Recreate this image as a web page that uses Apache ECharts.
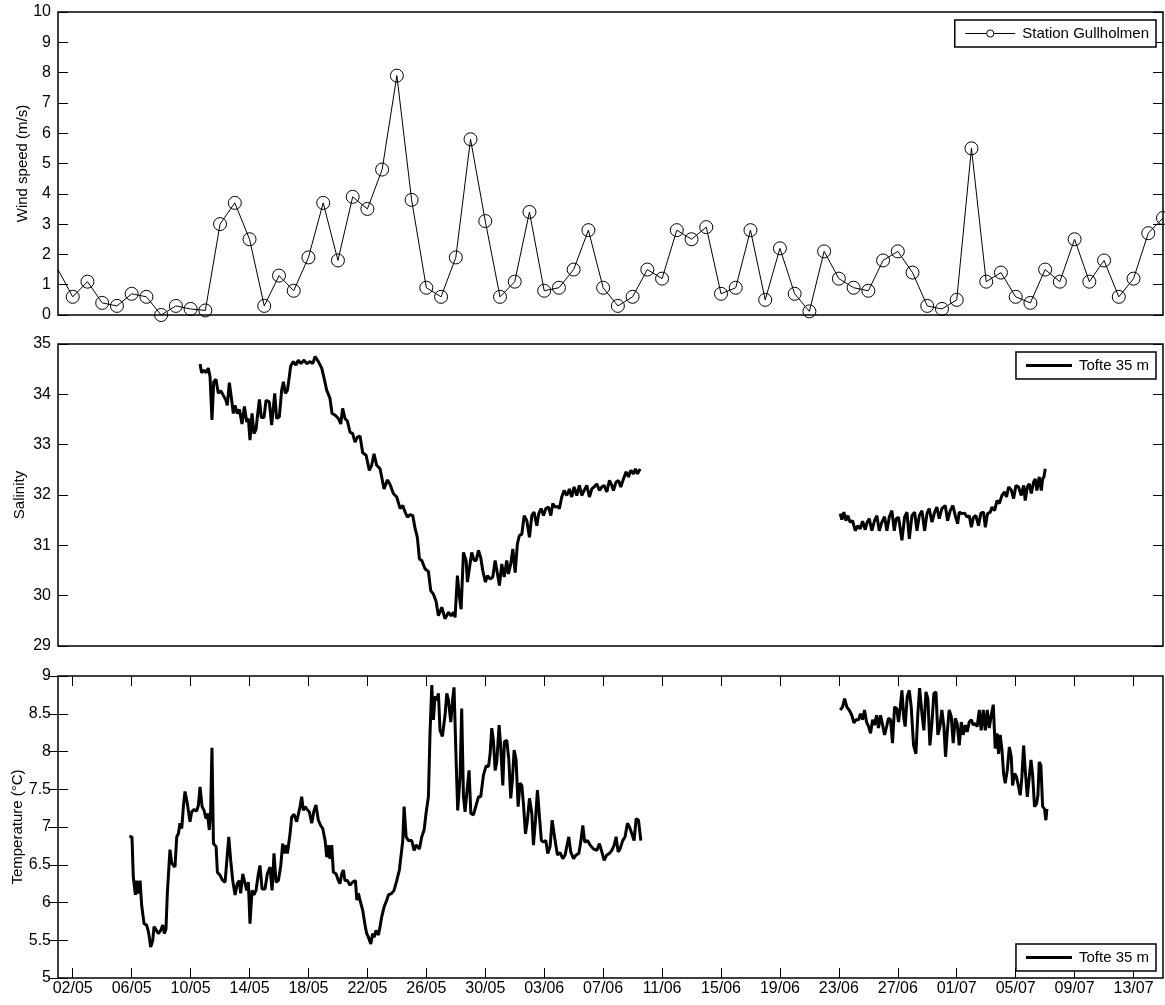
<!DOCTYPE html>
<html>
<head>
  <meta charset="UTF-8">
  <title>Gullholmen wind / Tofte 35 m</title>
  <script src="https://cdn.jsdelivr.net/npm/echarts@6/dist/echarts.min.js"></script>
  <style>
    html,body{margin:0;padding:0;background:#fff;}
    #main{width:1165px;height:1005px;}
  </style>
</head>
<body>
<div id="main"></div>
<script>
  // x values are days counted from 01/05 (01/05 = 0, 15/07 = 75)
  var windSpeed = [1.5,0.6,1.1,0.4,0.3,0.7,0.6,0.0,0.3,0.2,0.15,3.0,3.7,2.5,0.3,1.3,0.8,1.9,3.7,1.8,3.9,3.5,4.8,7.9,3.8,0.9,0.6,1.9,5.8,3.1,0.6,
    1.1,3.4,0.8,0.9,1.5,2.8,0.9,0.3,0.6,1.5,1.2,2.8,2.5,2.9,0.7,0.9,2.8,0.5,2.2,0.7,0.12,2.1,1.2,0.9,0.8,1.8,2.1,1.4,0.3,0.2,
    0.5,5.5,1.1,1.4,0.6,0.4,1.5,1.1,2.5,1.1,1.8,0.6,1.2,2.7,3.2];

  var salinity1 = [[9.64,34.6],[9.75,34.43],[9.91,34.48],[10.05,34.43],[10.2,34.52],[10.32,34.35],[10.45,33.49],[10.57,34.25],[10.72,34.3],[10.88,34.02],
    [11.04,34.07],[11.22,33.98],[11.4,33.88],[11.49,33.78],[11.63,34.23],[11.79,33.88],[11.9,33.62],[12.01,33.78],[12.17,33.62],[12.31,33.7],
    [12.49,33.41],[12.65,33.76],[12.81,33.45],[12.92,33.52],[13.03,33.09],[13.17,33.62],[13.3,33.22],[13.44,33.3],[13.53,33.55],[13.67,33.9],
    [13.8,33.54],[13.98,33.54],[14.12,33.88],[14.34,33.85],[14.5,33.39],[14.71,34.02],[14.84,33.52],[15.02,33.55],[15.18,34.08],[15.3,34.25],
    [15.43,34.02],[15.57,34.08],[15.7,34.35],[15.79,34.56],[15.97,34.65],[16.15,34.58],[16.31,34.68],[16.49,34.61],[16.7,34.68],[16.88,34.61],
    [17.11,34.65],[17.29,34.61],[17.45,34.75],[17.67,34.65],[17.9,34.52],[18.06,34.32],[18.24,34.08],[18.46,33.92],[18.6,33.62],[18.8,33.59],
    [19.03,33.52],[19.19,33.41],[19.32,33.72],[19.48,33.52],[19.64,33.47],[19.82,33.25],[20.0,33.22],[20.16,33.05],[20.32,33.15],[20.5,33.17],
    [20.68,32.84],[20.91,32.79],[21.13,32.49],[21.29,32.59],[21.45,32.82],[21.63,32.59],[21.86,32.52],[21.97,32.49],[22.13,32.12],[22.36,32.3],
    [22.54,32.21],[22.76,32.03],[22.99,31.96],[23.22,31.73],[23.4,31.79],[23.56,31.66],[23.72,31.56],[23.9,31.61],[24.08,31.59],[24.24,31.33],
    [24.39,31.16],[24.53,30.73],[24.69,30.7],[24.92,30.53],[25.14,30.48],[25.3,30.1],[25.48,30.03],[25.66,29.89],[25.82,29.6],[26.05,29.77],
    [26.27,29.54],[26.5,29.67],[26.68,29.6],[26.84,29.67],[26.95,29.57],[27.11,30.4],[27.25,29.97],[27.36,29.73],[27.52,30.86],[27.7,30.7],
    [27.79,30.27],[27.92,30.3],[28.08,30.86],[28.24,30.7],[28.38,30.7],[28.54,30.9],[28.69,30.76],[28.83,30.5],[29.01,30.27],[29.15,30.4],
    [29.33,30.33],[29.51,30.37],[29.67,30.7],[29.83,30.43],[29.96,30.2],[30.12,30.63],[30.28,30.37],[30.46,30.7],[30.57,30.43],[30.73,30.63],
    [30.87,30.93],[31.03,30.46],[31.18,31.03],[31.32,31.2],[31.48,31.22],[31.64,31.59],[31.82,31.49],[32.0,31.16],[32.16,31.59],[32.31,31.66],
    [32.5,31.39],[32.63,31.63],[32.79,31.73],[32.95,31.59],[33.11,31.73],[33.29,31.76],[33.45,31.59],[33.58,31.83],[33.74,31.76],[33.9,31.77],
    [34.03,31.73],[34.19,31.96],[34.35,32.09],[34.53,31.99],[34.71,32.12],[34.87,31.96],[35.03,32.16],[35.21,31.99],[35.39,32.19],[35.55,31.99],
    [35.71,32.09],[35.89,32.19],[36.07,31.96],[36.23,32.12],[36.39,32.16],[36.57,32.22],[36.75,32.09],[36.91,32.16],[37.07,32.19],[37.25,32.06],
    [37.43,32.29],[37.59,32.19],[37.7,32.09],[37.88,32.26],[38.04,32.29],[38.2,32.16],[38.38,32.32],[38.56,32.46],[38.72,32.36],[38.88,32.49],
    [39.06,32.42],[39.19,32.52],[39.33,32.42],[39.51,32.52]];

  var salinity2 = [[53.09,31.63],[53.2,31.51],[53.34,31.66],[53.48,31.49],[53.61,31.59],[53.77,31.46],[53.93,31.49],[54.11,31.29],[54.29,31.39],[54.45,31.33],
    [54.61,31.48],[54.79,31.31],[54.92,31.46],[55.06,31.53],[55.24,31.29],[55.42,31.49],[55.58,31.59],[55.74,31.29],[55.92,31.46],[56.1,31.57],
    [56.26,31.29],[56.42,31.56],[56.6,31.69],[56.76,31.29],[56.89,31.53],[57.05,31.56],[57.28,31.1],[57.46,31.56],[57.62,31.66],[57.78,31.13],
    [57.96,31.59],[58.14,31.66],[58.3,31.29],[58.46,31.59],[58.64,31.69],[58.82,31.29],[58.98,31.63],[59.13,31.73],[59.32,31.46],[59.5,31.66],
    [59.65,31.76],[59.81,31.53],[59.99,31.73],[60.22,31.79],[60.38,31.49],[60.56,31.69],[60.74,31.79],[60.9,31.59],[61.06,31.43],[61.17,31.66],
    [61.35,31.63],[61.53,31.64],[61.71,31.56],[61.85,31.59],[61.99,31.36],[62.14,31.56],[62.3,31.59],[62.48,31.39],[62.64,31.64],[62.82,31.66],
    [62.94,31.36],[63.09,31.63],[63.28,31.66],[63.39,31.76],[63.57,31.69],[63.73,31.89],[63.89,31.83],[64.07,31.99],[64.25,32.06],[64.38,31.96],
    [64.52,32.16],[64.7,32.1],[64.86,31.93],[65.02,32.19],[65.2,32.16],[65.38,31.99],[65.54,32.19],[65.65,31.89],[65.79,32.16],[65.92,32.22],
    [66.06,32.03],[66.22,32.26],[66.33,32.32],[66.44,32.09],[66.6,32.36],[66.74,32.09],[66.83,32.32],[66.92,32.36],[67.01,32.52]];

  var temperature1 = [[4.84,6.87],[5.02,6.87],[5.11,6.34],[5.25,6.1],[5.34,6.29],[5.45,6.12],[5.57,6.29],[5.68,5.96],[5.84,5.72],[6.02,5.7],
    [6.16,5.59],[6.29,5.41],[6.43,5.5],[6.52,5.68],[6.65,5.7],[6.81,5.59],[6.97,5.63],[7.11,5.7],[7.22,5.59],[7.33,5.65],
    [7.42,6.12],[7.6,6.7],[7.72,6.52],[7.83,6.54],[7.94,6.47],[8.06,6.87],[8.17,6.91],[8.28,7.05],[8.4,6.98],[8.51,7.27],
    [8.62,7.47],[8.78,7.31],[8.96,7.07],[9.07,7.2],[9.23,7.23],[9.41,7.21],[9.53,7.29],[9.64,7.53],[9.78,7.27],[9.91,7.22],
    [10.05,7.11],[10.14,7.18],[10.27,6.96],[10.36,7.22],[10.45,8.05],[10.55,6.78],[10.73,6.74],[10.82,6.4],[11.0,6.36],[11.18,6.29],
    [11.34,6.27],[11.45,6.29],[11.59,6.87],[11.72,6.56],[11.86,6.29],[12.02,6.1],[12.17,6.25],[12.31,6.29],[12.4,6.12],[12.54,6.38],
    [12.67,6.4],[12.81,6.16],[12.92,6.27],[13.03,5.72],[13.17,6.16],[13.3,6.1],[13.44,6.16],[13.6,6.38],[13.71,6.49],[13.85,6.18],
    [14.05,6.18],[14.21,6.38],[14.39,6.47],[14.53,6.16],[14.66,6.65],[14.8,6.27],[14.96,6.29],[15.12,6.49],[15.25,6.78],[15.34,6.65],
    [15.48,6.76],[15.57,6.65],[15.75,6.91],[15.86,7.13],[16.02,7.17],[16.2,7.07],[16.32,7.07],[16.43,7.27],[16.54,7.4],[16.65,7.22],
    [16.77,7.27],[16.88,7.24],[17.06,7.2],[17.22,7.05],[17.38,7.22],[17.51,7.29],[17.67,7.09],[17.83,7.02],[17.97,6.98],[18.13,6.82],
    [18.24,6.6],[18.35,6.76],[18.46,6.58],[18.58,6.76],[18.69,6.4],[18.87,6.38],[19.03,6.29],[19.14,6.25],[19.26,6.38],[19.37,6.43],
    [19.48,6.29],[19.64,6.29],[19.82,6.23],[20.0,6.27],[20.19,6.29],[20.28,6.03],[20.39,6.12],[20.5,6.03],[20.68,5.9],[20.84,5.7],
    [20.95,5.59],[21.07,5.54],[21.23,5.45],[21.36,5.59],[21.45,5.54],[21.59,5.63],[21.75,5.57],[21.86,5.68],[21.97,5.81],[22.13,5.94],
    [22.31,6.03],[22.43,6.1],[22.65,6.12],[22.81,6.16],[22.99,6.29],[23.17,6.43],[23.26,6.45],[23.4,6.82],[23.49,7.27],[23.63,6.87],
    [23.78,6.82],[24.01,6.82],[24.17,6.69],[24.3,6.76],[24.53,6.71],[24.69,6.87],[24.85,6.96],[24.98,7.18],[25.14,7.4],[25.25,8.24],
    [25.37,8.88],[25.48,8.42],[25.59,8.73],[25.71,8.68],[25.82,8.77],[25.93,8.28],[26.09,8.2],[26.27,8.48],[26.39,8.77],[26.5,8.68],
    [26.66,8.39],[26.79,8.7],[26.88,8.85],[27.02,7.89],[27.13,7.22],[27.29,7.66],[27.4,8.57],[27.52,7.4],[27.63,7.2],[27.74,7.44],
    [27.9,7.75],[28.02,7.18],[28.2,7.16],[28.38,7.29],[28.54,7.4],[28.69,7.4],[28.88,7.69],[29.06,7.81],[29.22,7.8],[29.33,7.97],
    [29.44,8.31],[29.55,8.15],[29.67,7.75],[29.78,7.86],[29.94,8.35],[30.05,8.06],[30.19,7.55],[30.3,8.13],[30.46,8.15],[30.6,7.89],
    [30.73,7.38],[30.84,7.62],[30.96,8.02],[31.09,7.89],[31.23,7.27],[31.36,7.58],[31.48,7.55],[31.59,7.31],[31.73,6.91],[31.86,7.09],
    [32.0,7.38],[32.16,7.18],[32.27,6.76],[32.41,7.09],[32.54,7.49],[32.68,7.13],[32.81,6.82],[32.95,6.8],[33.11,6.82],[33.24,6.65],
    [33.4,6.74],[33.54,7.09],[33.63,7.09],[33.74,6.82],[33.9,6.63],[34.08,6.66],[34.26,6.58],[34.42,6.63],[34.53,6.74],[34.67,6.87],
    [34.8,6.67],[34.99,6.58],[35.17,6.63],[35.35,6.65],[35.48,6.8],[35.62,7.02],[35.75,6.8],[35.94,6.82],[36.12,6.76],[36.34,6.71],
    [36.57,6.69],[36.75,6.78],[36.91,6.67],[37.07,6.56],[37.25,6.63],[37.43,6.65],[37.59,6.69],[37.75,6.76],[37.88,6.87],[38.02,6.67],
    [38.15,6.71],[38.33,6.82],[38.49,6.87],[38.65,7.05],[38.79,7.0],[38.95,6.91],[39.1,6.82],[39.24,7.11],[39.4,7.09],[39.56,6.82]];

  var temperature2 = [[53.09,8.55],[53.25,8.59],[53.39,8.7],[53.54,8.59],[53.7,8.55],[53.88,8.48],[54.02,8.38],[54.16,8.42],[54.34,8.42],[54.47,8.5],
    [54.61,8.42],[54.74,8.55],[54.88,8.39],[55.02,8.33],[55.15,8.24],[55.29,8.42],[55.42,8.35],[55.56,8.48],[55.69,8.31],[55.83,8.48],
    [55.97,8.35],[56.1,8.22],[56.24,8.33],[56.37,8.44],[56.51,8.42],[56.64,8.11],[56.78,8.59],[56.92,8.57],[57.05,8.39],[57.17,8.59],
    [57.28,8.81],[57.41,8.44],[57.5,8.33],[57.64,8.73],[57.78,8.81],[57.91,8.59],[58.07,8.08],[58.23,7.97],[58.36,8.5],[58.48,8.84],
    [58.64,8.5],[58.77,8.28],[58.91,8.79],[59.04,8.7],[59.18,8.08],[59.32,8.39],[59.45,8.77],[59.59,8.79],[59.72,8.22],[59.86,8.33],
    [59.99,8.55],[60.13,8.33],[60.24,7.93],[60.36,8.26],[60.49,8.55],[60.63,8.46],[60.76,8.11],[60.9,8.44],[61.03,8.37],[61.17,8.08],
    [61.31,8.39],[61.44,8.22],[61.58,8.35],[61.71,8.26],[61.85,8.39],[61.99,8.42],[62.12,8.35],[62.26,8.37],[62.39,8.33],[62.53,8.55],
    [62.66,8.28],[62.8,8.55],[62.94,8.28],[63.07,8.55],[63.21,8.31],[63.34,8.48],[63.48,8.62],[63.61,8.04],[63.73,8.24],[63.84,7.97],
    [63.95,8.22],[64.07,8.02],[64.18,7.71],[64.29,7.58],[64.43,7.75],[64.57,8.06],[64.7,7.93],[64.79,7.55],[64.93,7.71],[65.06,7.66],
    [65.2,7.53],[65.31,7.42],[65.42,7.66],[65.54,8.08],[65.65,7.75],[65.79,7.4],[65.92,7.38],[66.04,7.89],[66.15,7.69],[66.28,7.27],
    [66.42,7.31],[66.51,7.42],[66.6,7.86],[66.71,7.82],[66.83,7.27],[66.96,7.24],[67.05,7.09],[67.12,7.24]];

  // 02/05, 06/05 ... 13/07
  var tickDays = [1,5,9,13,17,21,25,29,33,37,41,45,49,53,57,61,65,69,73];

  var font = 'Liberation Sans, Arial, Helvetica, sans-serif';
  var black = '#000';

  function dayLabel(d){
    var t = new Date(2000, 4, 1 + Math.round(d));
    var dd = t.getDate(), mm = t.getMonth() + 1;
    return (dd < 10 ? '0' : '') + dd + '/' + (mm < 10 ? '0' : '') + mm;
  }

  function yAxisPair(grid, min, max, step, name, gap){
    var tick = {show:true, inside:true, length:10, lineStyle:{color:black, width:1}};
    return [
      {type:'value', gridIndex:grid, position:'left', min:min, max:max, interval:step,
        name:name, nameLocation:'middle', nameGap:gap, nameRotate:90, nameMoveOverlap:false,
        nameTextStyle:{color:black, fontSize:15, fontFamily:font},
        axisLine:{show:false}, axisTick:tick, splitLine:{show:false},
        axisLabel:{color:black, fontSize:16, fontFamily:font, margin:7}},
      {type:'value', gridIndex:grid, position:'right', min:min, max:max, interval:step,
        axisLine:{show:false}, axisTick:tick, splitLine:{show:false}, axisLabel:{show:false}}
    ];
  }

  // legend box with a plain thick bar as key (the salinity / temperature lines have no marker)
  function legendAt(top, name, width, extra){
    var lg = {
      data:[name], right:9, top:top, orient:'horizontal',
      itemWidth:width, itemHeight:3, itemGap:0, icon:'rect',
      padding:[6,7,6,10], borderColor:black, borderWidth:1.5, borderRadius:0,
      backgroundColor:'#fff', selectedMode:false,
      textStyle:{color:black, fontSize:15, fontFamily:font, padding:[0,0,0,2]}
    };
    return Object.assign(lg, extra || {});
  }

  var windData = windSpeed.map(function(v, i){
    // the first sample sits on the left edge, its marker is not shown
    return i === 0 ? {value:[i, v], symbol:'none'} : [i, v];
  });

  var gridBox = {show:true, borderColor:black, borderWidth:1.5, backgroundColor:'transparent',
    left:58, width:1105, outerBoundsMode:'none', containLabel:false};

  var chart = echarts.init(document.getElementById('main'));
  chart.setOption({
    animation:false,
    backgroundColor:'#fff',
    textStyle:{fontFamily:font},
    grid:[
      Object.assign({}, gridBox, {top:12, height:303}),
      Object.assign({}, gridBox, {top:344, height:302}),
      Object.assign({}, gridBox, {top:676, height:302})
    ],
    xAxis:[
      {type:'value', gridIndex:0, min:0, max:75, show:false},
      {type:'value', gridIndex:1, min:0, max:75, show:false},
      {type:'value', gridIndex:2, min:0, max:75, position:'bottom',
        axisLine:{show:false}, splitLine:{show:false},
        axisTick:{show:true, inside:true, length:10, customValues:tickDays, lineStyle:{color:black}},
        axisLabel:{customValues:tickDays, formatter:dayLabel, color:black, fontSize:16, fontFamily:font, margin:3}},
      {type:'value', gridIndex:2, min:0, max:75, position:'top',
        axisLine:{show:false}, splitLine:{show:false},
        axisTick:{show:true, inside:true, length:10, customValues:tickDays, lineStyle:{color:black}},
        axisLabel:{show:false}}
    ],
    yAxis:[].concat(
      yAxisPair(0, 0, 10, 1, 'Wind speed (m/s)', 28),
      yAxisPair(1, 29, 35, 1, 'Salinity', 31),
      yAxisPair(2, 5, 9, 0.5, 'Temperature (°C)', 33)
    ),
    legend:[
      legendAt(20, 'Station Gullholmen', 50, {icon:null, itemHeight:9,
        itemStyle:{color:'#fff', borderColor:black, borderWidth:1},
        lineStyle:{color:black, width:1}}),
      legendAt(352, 'Tofte 35 m', 46),
      legendAt(944, 'Tofte 35 m', 46)
    ],
    series:[
      {name:'Station Gullholmen', type:'line', xAxisIndex:0, yAxisIndex:0, data:windData,
        symbol:'circle', symbolSize:13,
        itemStyle:{color:'rgba(0,0,0,0)', borderColor:black, borderWidth:1},
        lineStyle:{color:black, width:1}, emphasis:{disabled:true}},
      {name:'Tofte 35 m', type:'line', xAxisIndex:1, yAxisIndex:2, data:salinity1, symbol:'none',
        itemStyle:{color:black}, lineStyle:{color:black, width:3}, emphasis:{disabled:true}},
      {name:'Tofte 35 m', type:'line', xAxisIndex:1, yAxisIndex:2, data:salinity2, symbol:'none',
        itemStyle:{color:black}, lineStyle:{color:black, width:3}, emphasis:{disabled:true}},
      {name:'Tofte 35 m', type:'line', xAxisIndex:2, yAxisIndex:4, data:temperature1, symbol:'none',
        itemStyle:{color:black}, lineStyle:{color:black, width:3}, emphasis:{disabled:true}},
      {name:'Tofte 35 m', type:'line', xAxisIndex:2, yAxisIndex:4, data:temperature2, symbol:'none',
        itemStyle:{color:black}, lineStyle:{color:black, width:3}, emphasis:{disabled:true}}
    ]
  });
</script>
</body>
</html>
